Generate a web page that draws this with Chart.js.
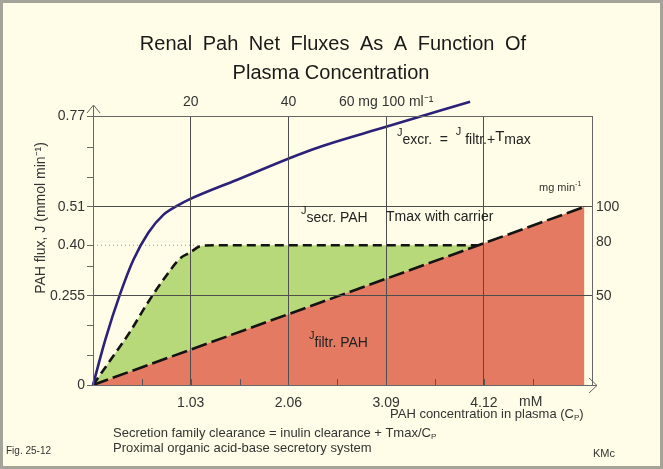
<!DOCTYPE html>
<html>
<head>
<meta charset="utf-8">
<title>Renal PAH net fluxes</title>
<script src="https://cdn.jsdelivr.net/npm/chart.js@4.4.1/dist/chart.umd.min.js"></script>
<style>
  html, body { margin: 0; padding: 0; background: #FFFDE7; }
  #wrap { width: 663px; height: 469px; }
</style>
</head>
<body>
<div id="wrap"><canvas id="pahChart" width="663" height="469"></canvas></div>
<script>
// values: x = plasma PAH (mM), y = flux (mmol/min)
const filtrationPoints = [[0, 0], [5.18, 0.51]];
const totalPoints = [[0, 0], [0.214, 0.083], [0.39, 0.152], [0.566, 0.231], [0.741, 0.301],
  [0.917, 0.362], [1.023, 0.379], [1.128, 0.397], [1.268, 0.40], [4.06, 0.40]];
const excretionPoints = [[0, 0], [0.13, 0.13], [0.285, 0.26], [0.425, 0.358], [0.583, 0.436],
  [0.741, 0.487], [0.90, 0.515], [1.005, 0.53], [1.515, 0.587], [2.32, 0.675], [3.09, 0.739], [3.975, 0.811]];
const tmaxGuidePoints = [[0, 0.40], [1.13, 0.40]];

const xMax = 5.26;
const xMajorTicks = [1.03, 2.06, 3.09, 4.12];
const xMinorTicks = [0.515, 1.545, 2.575, 3.605, 4.635];
const yTicks = [0, 0.085, 0.17, 0.255, 0.34, 0.40, 0.51, 0.595, 0.68, 0.77];
const yLabelValues = [0, 0.255, 0.40, 0.51, 0.77];
const yLabelTexts = ["0", "0.255", "0.40", "0.51", "0.77"];
const yGridValues = [0.255, 0.51];
const topTicks = [20, 40, 60];          // mg / 100 ml
const topLabels = ["20", "40", "60 mg 100 ml\u207B\u00B9"];
const rightTicks = [50, 80, 100];       // mg / min

const mgPer100mlPerMM = 20 / 1.03;
const mgMinPerMmol = 100 / 0.51;

const FONT = "'Liberation Sans', Arial, Helvetica, sans-serif";
const TXT = "#333";

// text with small raised / lowered pieces
function drawRich(ctx, x, y, parts) {
  ctx.textAlign = "left";
  ctx.textBaseline = "alphabetic";
  parts.forEach(p => {
    ctx.font = p[1] + "px " + FONT;
    ctx.fillText(p[0], x, y + (p[2] || 0));
    x += ctx.measureText(p[0]).width;
  });
}

const decor = {
  id: "decor",
  beforeDraw(chart) {
    const { ctx, width, height } = chart;
    ctx.save();
    ctx.fillStyle = "#FFFDE7";
    ctx.fillRect(0, 0, width, height);
    ctx.strokeStyle = "#A4A49B";
    ctx.lineWidth = 3;
    ctx.strokeRect(1.5, 1.5, width - 3, height - 3);
    ctx.restore();
  },
  afterDraw(chart) {
    const { ctx, chartArea: a } = chart;
    const xs = chart.scales.x;
    ctx.save();

    // inward tick marks on the concentration axis
    ctx.strokeStyle = "#555";
    ctx.lineWidth = 1;
    xs.ticks.forEach(t => {
      const px = Math.round(xs.getPixelForValue(t.value)) + 0.5;
      ctx.beginPath();
      ctx.moveTo(px, a.bottom);
      ctx.lineTo(px, a.bottom - 6);
      ctx.stroke();
    });

    // axis arrows
    ctx.strokeStyle = "#666";
    ctx.beginPath();
    ctx.moveTo(a.left + 0.5, a.top);
    ctx.lineTo(a.left + 0.5, a.top - 10);
    ctx.moveTo(a.left - 6, a.top - 3);
    ctx.lineTo(a.left + 0.5, a.top - 11);
    ctx.lineTo(a.left + 7, a.top - 3);
    ctx.moveTo(a.right, a.bottom + 0.5);
    ctx.lineTo(a.right + 5, a.bottom + 0.5);
    ctx.moveTo(a.right - 3, a.bottom - 7);
    ctx.lineTo(a.right + 5, a.bottom + 0.5);
    ctx.lineTo(a.right - 3, a.bottom + 8);
    ctx.stroke();

    // title
    ctx.fillStyle = "#1a1a1a";
    ctx.textAlign = "center";
    ctx.textBaseline = "alphabetic";
    ctx.font = "20px " + FONT;
    if ("wordSpacing" in ctx) ctx.wordSpacing = "5px";
    ctx.fillText("Renal Pah Net Fluxes As A Function Of", 333, 50);
    if ("wordSpacing" in ctx) ctx.wordSpacing = "0px";
    ctx.fillText("Plasma Concentration", 331, 79);

    // y axis title
    ctx.fillStyle = TXT;
    ctx.save();
    ctx.translate(41, 218);
    ctx.rotate(-Math.PI / 2);
    ctx.font = "14px " + FONT;
    ctx.textBaseline = "middle";
    ctx.fillText("PAH flux, J (mmol min\u207B\u00B9)", 0, 0);
    ctx.restore();

    // curve annotations
    ctx.fillStyle = "#222";
    drawRich(ctx, 397, 144, [["J", 11, -8], ["excr.", 14], ["  =  ", 14], ["J", 11, -9],
      [" filtr.", 14], ["+", 14], ["T", 15, -3], ["max", 14]]);
    drawRich(ctx, 301, 222, [["J", 11, -8], ["secr. PAH", 14]]);
    drawRich(ctx, 386, 221, [["Tmax with carrier", 14]]);
    drawRich(ctx, 309, 347, [["J", 11, -8], ["filtr. PAH", 14]]);

    // units and captions
    ctx.fillStyle = TXT;
    drawRich(ctx, 539, 191, [["mg min", 11], ["-1", 7, -5]]);
    drawRich(ctx, 519, 406, [["mM", 14]]);
    drawRich(ctx, 390, 418, [["PAH concentration in plasma (C", 13], ["P", 8, 2], [")", 13]]);
    drawRich(ctx, 113, 437, [["Secretion family clearance = inulin clearance + Tmax/C", 13], ["P", 8, 2]]);
    drawRich(ctx, 113, 452, [["Proximal organic acid-base secretory system", 13]]);
    drawRich(ctx, 6, 454, [["Fig. 25-12", 10]]);
    drawRich(ctx, 593, 457, [["KMc", 11]]);
    ctx.restore();
  }
};

const tickFont = { family: FONT, size: 14 };

new Chart(document.getElementById("pahChart").getContext("2d"), {
  type: "line",
  data: {
    datasets: [
      {
        label: "J filtr. PAH",
        data: filtrationPoints,
        borderColor: "#141414",
        borderWidth: 2.6,
        borderDash: [16, 5],
        backgroundColor: "#E57A62",
        fill: "origin",
        order: 2,
      },
      {
        label: "J secr. PAH + J filtr.",
        data: totalPoints,
        borderColor: "#141414",
        borderWidth: 2.6,
        borderDash: [9, 5],
        backgroundColor: "#B8D97A",
        fill: "-1",
        cubicInterpolationMode: "monotone",
        order: 3,
      },
      {
        label: "Tmax level",
        data: tmaxGuidePoints,
        borderColor: "#9a9a9a",
        borderWidth: 1,
        borderDash: [1, 3],
        fill: false,
        order: 1,
      },
      {
        label: "J excr.",
        data: excretionPoints,
        borderColor: "#2B2179",
        borderWidth: 2.6,
        fill: false,
        cubicInterpolationMode: "monotone",
        clip: false,
        order: 0,
      },
    ],
  },
  options: {
    responsive: false,
    animation: false,
    devicePixelRatio: 1,
    events: [],
    layout: { padding: 0 },
    elements: { point: { radius: 0 } },
    plugins: { legend: { display: false }, tooltip: { enabled: false }, title: { display: false } },
    scales: {
      x: {
        type: "linear",
        position: "bottom",
        min: 0,
        max: xMax,
        afterBuildTicks: s => {
          s.ticks = [...xMinorTicks, ...xMajorTicks].sort((p, q) => p - q).map(v => ({ value: v }));
        },
        afterFit: s => { s.height = 84; },
        ticks: {
          autoSkip: false,
          maxRotation: 0,
          padding: 10,
          color: TXT,
          font: tickFont,
          callback: v => (xMajorTicks.includes(v) ? v.toFixed(2) : ""),
        },
        grid: {
          z: 1,
          drawTicks: false,
          color: c => (c.tick && xMajorTicks.includes(c.tick.value) ? "#4d4d4d" : "rgba(0,0,0,0)"),
        },
        border: { color: "#666", width: 1, z: 1 },
      },
      xTop: {
        type: "linear",
        position: "top",
        min: 0,
        max: xMax * mgPer100mlPerMM,
        afterBuildTicks: s => { s.ticks = topTicks.map(v => ({ value: v })); },
        afterFit: s => { s.height = 116; },
        ticks: {
          autoSkip: false,
          maxRotation: 0,
          padding: 5,
          color: TXT,
          font: tickFont,
          callback: (v, i) => topLabels[i],
        },
        grid: { display: false, drawTicks: false },
        border: { color: "#666", width: 1, z: 1 },
      },
      y: {
        type: "linear",
        position: "left",
        min: 0,
        max: 0.77,
        afterBuildTicks: s => { s.ticks = yTicks.map(v => ({ value: v })); },
        afterFit: s => { s.width = 93; },
        ticks: {
          autoSkip: false,
          padding: 2,
          color: TXT,
          font: tickFont,
          callback: v => {
            const i = yLabelValues.indexOf(v);
            return i >= 0 ? yLabelTexts[i] : "";
          },
        },
        grid: {
          z: 1,
          drawTicks: true,
          tickLength: 6,
          tickColor: "#666",
          color: c => (c.tick && yGridValues.includes(c.tick.value) ? "#4d4d4d" : "rgba(0,0,0,0)"),
        },
        border: { color: "#666", width: 1, z: 1 },
      },
      yRight: {
        type: "linear",
        position: "right",
        min: 0,
        max: 0.77 * mgMinPerMmol,
        afterBuildTicks: s => { s.ticks = rightTicks.map(v => ({ value: v })); },
        afterFit: s => { s.width = 71; },
        ticks: { autoSkip: false, padding: 4, color: TXT, font: tickFont },
        grid: { display: false, drawTicks: false },
        border: { color: "#666", width: 1, z: 1 },
      },
    },
  },
  plugins: [decor],
});
</script>
</body>
</html>
